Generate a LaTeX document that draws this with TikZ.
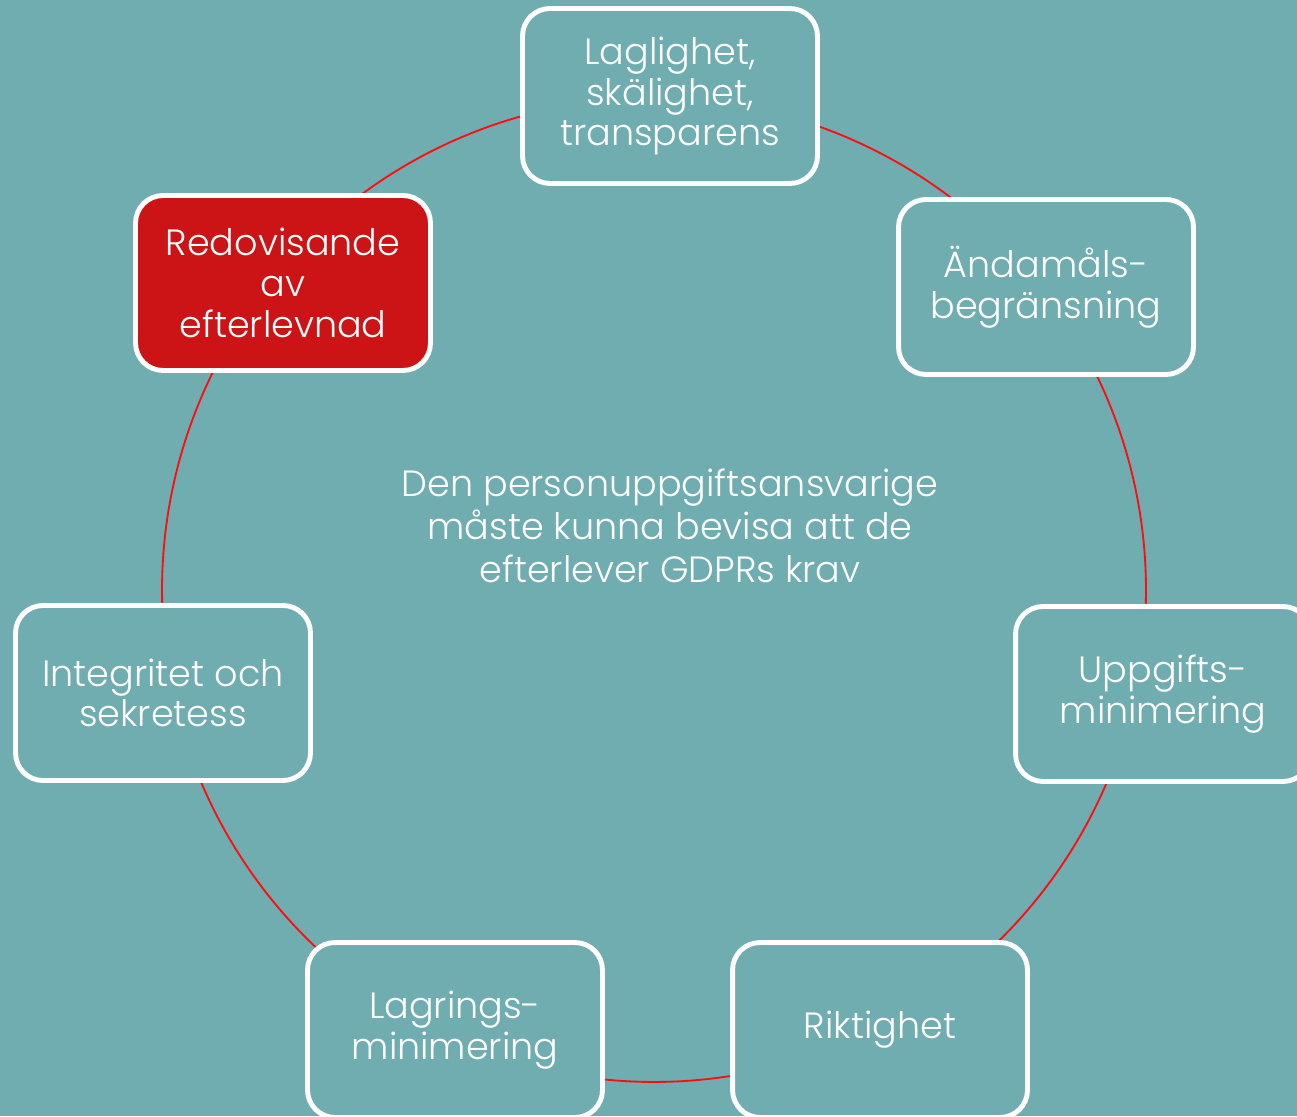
\documentclass[tikz,border=0pt]{standalone}
\usepackage{fontspec}
\setmainfont{Poppins}[UprightFont={* Light}]
\usepackage{tikz}
\usetikzlibrary{calc}
\definecolor{TEAL}{HTML}{6FADB0}
\definecolor{CRIMSON}{HTML}{CC1417}
\definecolor{RING}{HTML}{FF0D0D}
\pgfdeclarelayer{bg}
\pgfsetlayers{bg,main}

\begin{document}
\begin{tikzpicture}[x=0.02cm,y=0.02cm]
\tikzset{box/.style={draw=white,line width=2.8pt,fill=TEAL,rounded corners=0.55cm,minimum width=5.9cm,minimum height=3.5cm,
 text=white,align=center,font=\fontsize{20.8}{23.2}\selectfont},redbox/.style={box,fill=CRIMSON},
 ring/.style={RING,line width=1.05pt},
 ringarc/.style={to path={let \p1=($(\tikztostart)-(ctr)$),\p2=($(\tikztotarget)-(ctr)$),
  \n1={atan2(\y1,\x1)},\n2={\n1-mod(\n1-atan2(\y2,\x2)+720,360)} in
  ($(ctr)+(\n1:492)$) arc[start angle=\n1,end angle=\n2,radius=492]}}}
\useasboundingbox (0,0) rectangle (1297,1116);
\begin{pgfonlayer}{bg}
\fill[TEAL] (0,0) rectangle (1297,1116);
\end{pgfonlayer}
\coordinate (ctr) at (654,526);
\node[box] (lag) at (670,1020) {Laglighet,\\skälighet,\\transparens};
\node[box] (andam) at (1046,829) {Ändamåls-\\begränsning};
\node[box] (uppg) at (1163,422) {Uppgifts-\\minimering};
\node[box] (rikt) at (880,86) {Riktighet};
\node[box] (lagr) at (455,86) {Lagrings-\\minimering};
\node[box] (integ) at (163,423) {Integritet och\\sekretess};
\node[redbox] (redov) at (283,833) {Redovisande\\av\\efterlevnad};
\node[text=white,align=center,font=\fontsize{20.8}{24.4}\selectfont] (krav) at (670,590)
 {Den personuppgiftsansvarige\\måste kunna bevisa att de\\efterlever GDPRs krav};
\begin{pgfonlayer}{bg}
\foreach \a/\b in {lag/andam,andam/uppg,uppg/rikt,rikt/lagr,lagr/integ,integ/redov,redov/lag}
 \draw[ring] (\a) to[ringarc] (\b);
\end{pgfonlayer}
\end{tikzpicture}
\end{document}
